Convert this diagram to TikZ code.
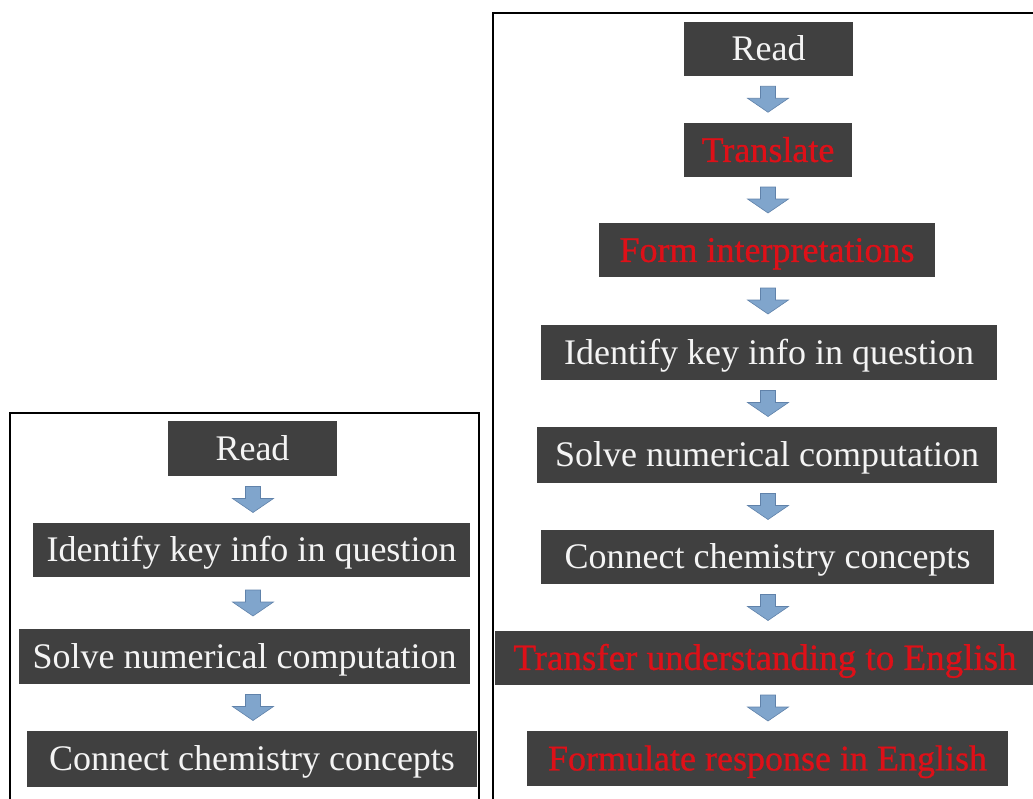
\documentclass[tikz,border=0pt]{standalone}
\usepackage{fontspec}
\setmainfont{Liberation Serif}
\newfontfamily\heavyserif{Liberation Serif}[FakeBold=0.8]
\usetikzlibrary{calc}

\definecolor{boxgray}{RGB}{64,64,64}
\definecolor{boxtext}{RGB}{244,244,244}
\definecolor{hilite}{RGB}{222,16,24}
\definecolor{arrowfill}{RGB}{128,165,204}
\definecolor{arrowedge}{RGB}{96,130,170}

\begin{document}
\begin{tikzpicture}[x=1pt,y=-1pt,
  stepbox/.style={fill=boxgray, text=boxtext, inner sep=0pt, minimum height=54pt,
    font=\fontsize{36}{40}\selectfont, text height=23.8pt, text depth=0pt},
  newstep/.style={stepbox, text=hilite, font=\heavyserif\fontsize{36}{40}\selectfont},
  frame/.style={line width=2pt, draw=black},
  % block arrow centred in the gap between two boxes, on a given column
  flow/.style={to path={let \p1=(\tikztostart.south), \p2=(\tikztotarget.north),
      \p3=(#1), \n1={(\y1+\y2)/2} in
      (\x3-7.5pt,\n1+13pt) -- (\x3+7.5pt,\n1+13pt) -- (\x3+7.5pt,\n1+1pt)
      -- (\x3+20.5pt,\n1+1pt) -- (\x3,\n1-13pt) -- (\x3-20.5pt,\n1+1pt)
      -- (\x3-7.5pt,\n1+1pt) -- cycle}},
  flowarrow/.style={fill=arrowfill, draw=arrowedge, line width=0.6pt, line join=miter}
]
\useasboundingbox (0,0) rectangle (1033,798);
\clip (0,0) rectangle (1033,798);

% column axes for the arrows
\coordinate (colL) at (253,0);
\coordinate (colR) at (768,0);

% frames
\draw[frame] (10,812) -- (10,413) -- (479,413) -- (479,812);
\draw[frame] (493,812) -- (493,13) -- (1045,13);

% left flow
\node[stepbox, minimum width=169pt, minimum height=55pt] (L1) at (252.5,448.5) {Read};
\node[stepbox, minimum width=437pt] (L2) at (251.5,550) {Identify key info in question};
\node[stepbox, minimum width=451pt, minimum height=55pt] (L3) at (244.5,656.5) {Solve numerical computation};
\node[stepbox, minimum width=450pt, minimum height=56pt] (L4) at (252,759) {Connect chemistry concepts};

% right flow
\node[stepbox, minimum width=169pt] (R1) at (768.5,48.5) {Read};
\node[newstep, minimum width=168pt] (R2) at (768,150) {Translate};
\node[newstep, minimum width=336pt] (R3) at (767,250) {Form interpretations};
\node[stepbox, minimum width=456pt, minimum height=55pt] (R4) at (769,352.5) {Identify key info in question};
\node[stepbox, minimum width=460pt, minimum height=56pt] (R5) at (767,455) {Solve numerical computation};
\node[stepbox, minimum width=453pt] (R6) at (767.5,557) {Connect chemistry concepts};
\node[newstep, minimum width=540pt, font=\heavyserif\fontsize{37}{40}\selectfont] (R7) at (765,658) {Transfer understanding to English};
\node[newstep, minimum width=481pt, minimum height=55pt] (R8) at (767.5,758.5) {Formulate response in English};

% arrows
\draw[flowarrow] (L1) to[flow=colL] (L2);
\draw[flowarrow] (L2) to[flow=colL] (L3);
\draw[flowarrow] (L3) to[flow=colL] (L4);

\draw[flowarrow] (R1) to[flow=colR] (R2);
\draw[flowarrow] (R2) to[flow=colR] (R3);
\draw[flowarrow] (R3) to[flow=colR] (R4);
\draw[flowarrow] (R4) to[flow=colR] (R5);
\draw[flowarrow] (R5) to[flow=colR] (R6);
\draw[flowarrow] (R6) to[flow=colR] (R7);
\draw[flowarrow] (R7) to[flow=colR] (R8);
\end{tikzpicture}
\end{document}
